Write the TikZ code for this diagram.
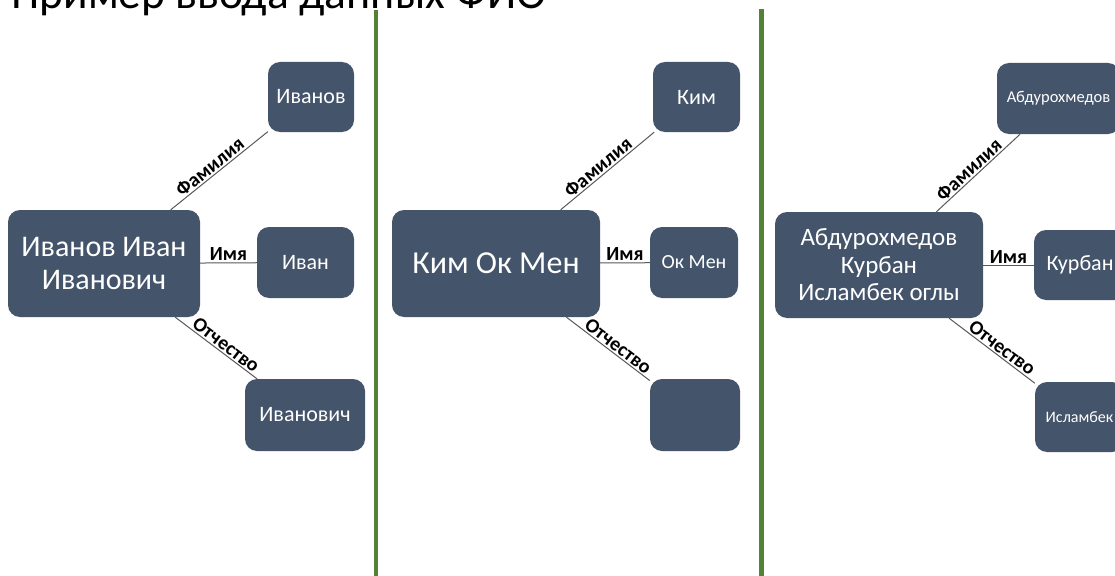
\documentclass[tikz,border=0pt]{standalone}
\usepackage{fontspec}
\setmainfont{Carlito}
\definecolor{boxfill}{HTML}{44546A}
\definecolor{sepgreen}{HTML}{548235}
\definecolor{linkgray}{HTML}{595959}
\begin{document}
\begin{tikzpicture}[x=1pt,y=-1pt,
  box/.style={draw=none,fill=boxfill,rounded corners=12pt,text=white,align=center,inner sep=0pt},
  link/.style={draw=linkgray,line width=1pt},
  lbl/.style={font=\bfseries\fontsize{20}{22}\selectfont,text=black,inner sep=1.5pt},
  sep/.style={draw=sepgreen,line width=4.5pt}]
\useasboundingbox (0,0) rectangle (1115,575);
\clip (0,0) rectangle (1115,575);
\fill[white] (0,0) rectangle (1115,575);
% title (cut by the top edge)
\node[anchor=base west,inner sep=0pt,font=\fontsize{45.5}{50}\selectfont] (title) at (11,9) {Пример ввода данных ФИО};
% separators
\coordinate (s1t) at (376,10); \coordinate (s1b) at (376,580);
\coordinate (s2t) at (761.5,9); \coordinate (s2b) at (761.5,580);
\draw[sep] (s1t) -- (s1b);
\draw[sep] (s2t) -- (s2b);
% panel 1
\node[box,minimum width=192pt,minimum height=107pt,font=\fontsize{30}{33}\selectfont] (A1) at (104,263.5) {Иванов Иван\\Иванович};
\node[box,minimum width=86pt,minimum height=70pt,font=\fontsize{22}{24}\selectfont] (A2) at (311,97) {Иванов};
\node[box,minimum width=97pt,minimum height=71pt,font=\fontsize{22}{24}\selectfont] (A3) at (305.5,262.5) {Иван};
\node[box,minimum width=120pt,minimum height=72pt,font=\fontsize{22}{24}\selectfont] (A4) at (305,415) {Иванович};
\draw[link] (A1) -- node[lbl,above,sloped,pos=0.46] {Фамилия} (A2);
\draw[link] (A1) -- node[lbl,above,sloped] {Имя} (A3);
\draw[link] (A1) -- node[lbl,above,sloped,pos=0.56] {Отчество} (A4);
% panel 2
\node[box,minimum width=208pt,minimum height=107pt,font=\fontsize{32}{35}\selectfont] (B1) at (496,263.5) {Ким Ок Мен};
\node[box,minimum width=87pt,minimum height=70pt,font=\fontsize{22}{24}\selectfont] (B2) at (696.5,97) {Ким};
\node[box,minimum width=88pt,minimum height=71pt,font=\fontsize{20}{22}\selectfont] (B3) at (694,262.5) {Ок Мен};
\node[box,minimum width=90pt,minimum height=72pt] (B4) at (695,415) {};
\draw[link] (B1) -- node[lbl,above,sloped,pos=0.46] {Фамилия} (B2);
\draw[link] (B1) -- node[lbl,above,sloped] {Имя} (B3);
\draw[link] (B1) -- node[lbl,above,sloped,pos=0.56] {Отчество} (B4);
% panel 3
\node[box,minimum width=208pt,minimum height=106pt,font=\fontsize{25}{27.5}\selectfont] (C1) at (879,265) {Абдурохмедов\\Курбан\\Исламбек оглы};
\node[box,minimum width=123pt,minimum height=71pt,font=\fontsize{16.5}{18}\selectfont] (C2) at (1058.5,98.5) {Абдурохмедов};
\node[box,minimum width=92pt,minimum height=70pt,font=\fontsize{22}{24}\selectfont] (C3) at (1080,265) {Курбан};
\node[box,minimum width=89pt,minimum height=70pt,font=\fontsize{16}{18}\selectfont] (C4) at (1079.5,417) {Исламбек};
\draw[link] (C1) -- node[lbl,above,sloped,pos=0.46] {Фамилия} (C2);
\draw[link] (C1) -- node[lbl,above,sloped] {Имя} (C3);
\draw[link] (C1) -- node[lbl,above,sloped,pos=0.56] {Отчество} (C4);
\end{tikzpicture}
\end{document}
